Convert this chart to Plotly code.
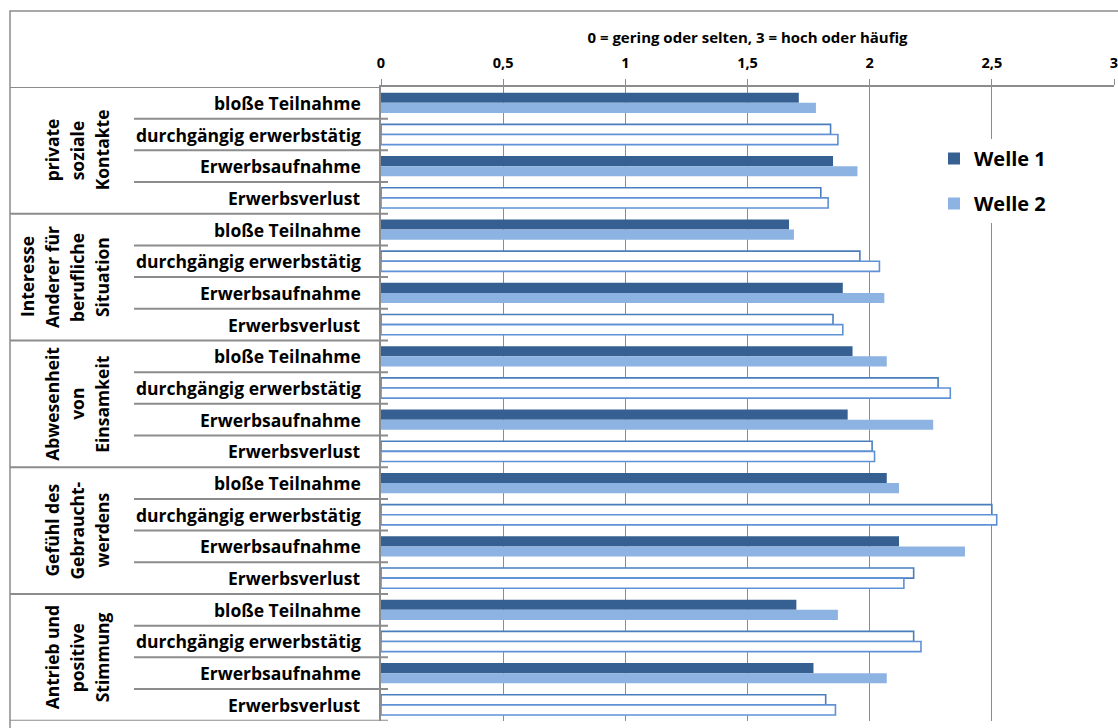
import plotly.graph_objects as go

# Outcome dimensions (rotated group labels) and employment transitions (row labels)
groups = [
    "private<br>soziale<br>Kontakte",
    "Interesse<br>Anderer für<br>berufliche<br>Situation",
    "Abwesenheit<br>von<br>Einsamkeit",
    "Gefühl des<br>Gebraucht-<br>werdens",
    "Antrieb und<br>positive<br>Stimmung",
]
subgroups = ["bloße Teilnahme", "durchgängig erwerbstätig", "Erwerbsaufnahme", "Erwerbsverlust"]

# Mean scores (0 = gering oder selten, 3 = hoch oder häufig), rows in group order
welle1 = [1.71, 1.84, 1.85, 1.80,
          1.67, 1.96, 1.89, 1.85,
          1.93, 2.28, 1.91, 2.01,
          2.07, 2.50, 2.12, 2.18,
          1.70, 2.18, 1.77, 1.82]
welle2 = [1.78, 1.87, 1.95, 1.83,
          1.69, 2.04, 2.06, 1.89,
          2.07, 2.33, 2.26, 2.02,
          2.12, 2.52, 2.39, 2.14,
          1.87, 2.21, 2.07, 1.86]

series_names = ["Welle 1", "Welle 2"]
axis_title = "0 = gering oder selten, 3 = hoch oder häufig"

W, H = 1118, 728
FONT = "Open Sans"
GRID = "#8c8c8c"
FILL = ["#376092", "#8db3e2"]
OUTLINE = ["#4a7ebb", "#5f91d6"]
HOLLOW = {"durchgängig erwerbstätig", "Erwerbsverlust"}


def px(x):
    return x / W


def py(y):
    return 1 - y / H


def bold(size):
    return dict(family=FONT, size=size, color="#000000", weight="bold")


rows = [(g, s) for g in groups for s in subgroups]
ypos = list(range(len(rows)))
n_sub = len(subgroups)

fig = go.Figure()
for k, (name, vals) in enumerate(zip(series_names, [welle1, welle2])):
    hollow = [s in HOLLOW for _, s in rows]
    fig.add_trace(go.Bar(
        name=name, orientation="h", x=vals, y=ypos,
        legendgroup=name,
        marker=dict(
            color=["#ffffff" if h else FILL[k] for h in hollow],
            line=dict(color=[OUTLINE[k] if h else FILL[k] for h in hollow],
                      width=[1.6 if h else 0 for h in hollow]),
        ),
    ))

shapes = []
# Outer chart border
shapes.append(dict(type="rect", xref="paper", yref="paper",
                   x0=px(10), x1=px(1135), y0=py(11), y1=py(745),
                   line=dict(color=GRID, width=1.5), layer="below"))
# Top rule extending the axis line over the label columns
shapes.append(dict(type="line", xref="paper", yref="y", x0=px(10), x1=px(381),
                   y0=-0.5, y1=-0.5, line=dict(color=GRID, width=2)))
# Row and group dividers in the label area
for i in range(len(rows)):
    boundary = i + 0.5
    is_group_end = (i + 1) % n_sub == 0
    shapes.append(dict(type="line", xref="paper", yref="y",
                       x0=px(10 if is_group_end else 134), x1=px(388),
                       y0=boundary, y1=boundary,
                       line=dict(color=GRID, width=2)))

annotations = []
for i, (g, s) in enumerate(rows):
    annotations.append(dict(text=s, xref="paper", yref="y", x=px(363), y=i,
                            xanchor="right", yanchor="middle", showarrow=False,
                            font=bold(17.5)))
# Rotated group labels, one column per text line, last line nearest the row labels
for gi, g in enumerate(groups):
    lines = g.split("<br>")
    for li, line in enumerate(lines):
        xc = 102 - 25 * (len(lines) - 1 - li)
        annotations.append(dict(text=line, xref="paper", yref="y", x=px(xc),
                                y=gi * n_sub + (n_sub - 1) / 2,
                                xanchor="center", yanchor="middle", showarrow=False,
                                textangle=-90, font=bold(17.5)))

fig.update_layout(
    template="none",
    width=W, height=H,
    margin=dict(l=0, r=0, t=0, b=0),
    paper_bgcolor="white", plot_bgcolor="white",
    separators=",.",
    barmode="group", bargap=0.36, bargroupgap=0,
    showlegend=True,
    legend=dict(x=px(934), y=py(139), xanchor="left", yanchor="top",
                bgcolor="white", borderwidth=0, tracegroupgap=16,
                font=bold(20)),
    xaxis=dict(domain=[px(381), px(1114)], range=[0, 3], dtick=0.5, tick0=0,
               side="top", showgrid=True, gridcolor=GRID, gridwidth=1.2,
               zeroline=False, showline=True, linecolor=GRID, linewidth=2,
               ticks="outside", ticklen=6, tickwidth=1.2, tickcolor=GRID,
               ticklabelstandoff=5, ticklabeloverflow="allow", automargin=False,
               tickfont=bold(14.5),
               title=dict(text=axis_title, standoff=6, font=bold(15))),
    yaxis=dict(domain=[py(720.7), py(87)], range=[len(rows) - 0.5, -0.5],
               showgrid=False, zeroline=False, showticklabels=False,
               showline=True, linecolor=GRID, linewidth=2, ticks="",
               automargin=False),
    shapes=shapes,
    annotations=annotations,
)

fig.write_html("out.html")
